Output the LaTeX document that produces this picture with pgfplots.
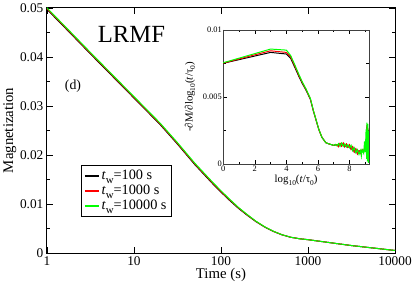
\documentclass[border=0pt]{standalone}
\usepackage{pgfplots}
\pgfplotsset{compat=1.18}
\usepackage{fontspec}
\setmainfont{Liberation Serif}
\begin{document}
\begin{tikzpicture}
\begin{axis}[
  name=main,
  scale only axis, width=353pt, height=248.5pt,
  xmode=log, xmin=1, xmax=10000, ymin=0, ymax=0.05,
  log basis x=10,
  xtick={1,10,100,1000,10000}, xticklabels={1,10,100,1000,10000},
  ytick={0,0.01,0.02,0.03,0.04,0.05}, yticklabels={0,0.01,0.02,0.03,0.04,0.05},
  scaled y ticks=false, scaled x ticks=false,
  minor ytick={0.005,0.015,0.025,0.035,0.045},
  tick align=inside, major tick length=6pt, minor tick length=3pt,
  axis line style={line width=0.8pt}, every tick/.style={line width=0.6pt, black},
  tick label style={font=\fontsize{13.5}{15}\selectfont},
  /pgf/number format/assume math mode=true,
  xlabel={Time (s)}, ylabel={Magnetization},
  label style={font=\fontsize{15}{17}\selectfont},
  xlabel style={yshift=4pt},
  ylabel style={yshift=-3pt},
  legend style={at={(0.098,0.358)}, anchor=north west, draw=black, line width=0.6pt, fill=white,
    font=\fontsize{14.5}{16}\selectfont, row sep=0pt, inner sep=3pt},
  legend cell align=left,
  legend image code/.code={\draw[#1, line width=1.5pt] (0pt,0pt) -- (14pt,0pt);},
]
\addplot[black, line width=1pt] coordinates {
(1,0.0497)(1.778,0.04517)(3.162,0.0406)(5.623,0.0361)(10,0.0316)(15.85,0.0280)(19.95,0.0262)(25.12,0.0242)(31.62,0.0222)(39.81,0.0201)(50.12,0.0180)(63.1,0.0161)(79.43,0.0142)(100,0.0124)(125.9,0.0107)(158.5,0.0091)(199.5,0.0077)(251.2,0.0064)(316.2,0.0053)(398.1,0.0044)(501.2,0.0037)(631,0.0032)(794.3,0.0029)(1000,0.0027)(1778,0.0021)(3162,0.0015)(5623,0.0010)(10000,0.0005)};
\addlegendentry{\textit{t}\raisebox{-0.55ex}{\fontsize{11}{11}\selectfont w}=100 s}
\addplot[red, line width=1pt] coordinates {
(1,0.04985)(1.778,0.04532)(3.162,0.04075)(5.623,0.03625)(10,0.03175)(15.85,0.02815)(19.95,0.02635)(25.12,0.02435)(31.62,0.02235)(39.81,0.02025)(50.12,0.01815)(63.1,0.01625)(79.43,0.01435)(100,0.01254)(125.9,0.01083)(158.5,0.00921)(199.5,0.00778)(251.2,0.00645)(316.2,0.00533)(398.1,0.00442)(501.2,0.00371)(631,0.0032)(794.3,0.0029)(1000,0.0027)(1778,0.0021)(3162,0.0015)(5623,0.0010)(10000,0.0005)};
\addlegendentry{\textit{t}\raisebox{-0.55ex}{\fontsize{11}{11}\selectfont w}=1000 s}
\addplot[green, line width=1pt] coordinates {
(1,0.05)(1.778,0.04547)(3.162,0.0409)(5.623,0.0364)(10,0.0319)(15.85,0.0283)(19.95,0.0265)(25.12,0.0245)(31.62,0.0225)(39.81,0.0204)(50.12,0.0183)(63.1,0.0164)(79.43,0.0145)(100,0.01268)(125.9,0.01095)(158.5,0.0093)(199.5,0.00786)(251.2,0.0065)(316.2,0.00536)(398.1,0.00444)(501.2,0.00372)(631,0.00321)(794.3,0.0029)(1000,0.0027)(1778,0.0021)(3162,0.0015)(5623,0.0010)(10000,0.0005)};
\addlegendentry{\textit{t}\raisebox{-0.55ex}{\fontsize{11}{11}\selectfont w}=10000 s}
\node[font=\fontsize{25}{28}\selectfont] at (axis description cs:0.243,0.89) {LRMF};
\node[font=\fontsize{14}{15}\selectfont] at (axis description cs:0.075,0.68) {(d)};
\end{axis}
\begin{axis}[
  at={(main.south west)}, xshift=178.8pt, yshift=90pt, anchor=south west,
  scale only axis, width=147.7pt, height=136pt,
  xmin=0, xmax=9.23, ymin=0, ymax=0.01,
  xtick={0,2,4,6,8}, xticklabels={0,2,4,6,8}, minor xtick={1,3,5,7,9},
  ytick={0,0.005,0.01}, yticklabels={0,0.005,0.01}, minor ytick={0.0025,0.0075},
  scaled y ticks=false,
  tick align=inside, major tick length=4pt, minor tick length=2.5pt,
  axis line style={line width=0.8pt, black!75}, every tick/.style={line width=0.6pt, black},
  tick label style={font=\fontsize{8.5}{9}\selectfont},
  xticklabel style={yshift=2pt}, yticklabel style={xshift=2pt},
  /pgf/number format/assume math mode=true,
  xlabel={log\raisebox{-0.5ex}{\fontsize{7.5}{7.5}\selectfont 10}(\textit{t}/τ\raisebox{-0.5ex}{\fontsize{7.5}{7.5}\selectfont 0})},
  ylabel={-∂M/∂log\raisebox{-0.5ex}{\fontsize{7.5}{7.5}\selectfont 10}(\textit{t}/τ\raisebox{-0.5ex}{\fontsize{7.5}{7.5}\selectfont 0})},
  label style={font=\fontsize{11}{12}\selectfont},
  xlabel style={yshift=3pt},
  ylabel style={yshift=1pt},
]
\addplot[black, line width=1pt] coordinates {
(0,0.00752)(1,0.00779)(2,0.00806)(3.0,0.00833)(4.0,0.00821)(4.27,0.00789)(4.5,0.0073)(4.79,0.00654)(5.0,0.00603)(5.25,0.0055)(5.52,0.00483)(5.7,0.0040)(5.83,0.00348)(6.05,0.0026)(6.25,0.0020)(6.5,0.0016)(6.67,0.00152)(7.0,0.0014)(7.2,0.00145)(7.3,0.00132)(7.4,0.00152)(7.5,0.00136)(7.6,0.00155)(7.7,0.0013)(7.8,0.00148)(7.9,0.00126)(8.0,0.00142)(8.1,0.00112)(8.2,0.00128)(8.3,0.00092)(8.4,0.00112)(8.5,0.00078)(8.6,0.001)(8.7,0.00082)(8.8,0.00105)(8.9,0.00095)(9.0,0.0014)(9.05,0.001)(9.1,0.0028)(9.13,0.0006)(9.16,0.0026)(9.2,0.0004)};
\addplot[red, line width=1pt] coordinates {
(0,0.00753)(1,0.00784)(2,0.00815)(3.0,0.00845)(4.0,0.00833)(4.27,0.008)(4.5,0.0074)(4.79,0.00662)(5.0,0.0061)(5.25,0.00555)(5.52,0.00487)(5.7,0.00403)(5.83,0.0035)(6.05,0.0026)(6.25,0.002)(6.5,0.0016)(6.67,0.00152)(7.0,0.0014)(7.2,0.00146)(7.3,0.0013)(7.4,0.00154)(7.5,0.00134)(7.6,0.00158)(7.7,0.0013)(7.8,0.0015)(7.9,0.00125)(8.0,0.00144)(8.1,0.0011)(8.2,0.0013)(8.3,0.0009)(8.4,0.00114)(8.5,0.00076)(8.6,0.001)(8.7,0.0008)(8.8,0.00108)(8.9,0.00095)(9.0,0.0015)(9.05,0.001)(9.1,0.0029)(9.13,0.0005)(9.16,0.0027)(9.2,0.0003)};
\addplot[green, line width=1pt] coordinates {
(0,0.00756)(1,0.0079)(2,0.00824)(3.0,0.00858)(4.0,0.0085)(4.27,0.0081)(4.5,0.0075)(4.79,0.0067)(5.0,0.00615)(5.25,0.0056)(5.52,0.0049)(5.7,0.00405)(5.83,0.00352)(6.05,0.00262)(6.25,0.002)(6.5,0.0016)(6.67,0.00152)(7.0,0.0014)(7.1,0.00148)(7.2,0.00137)(7.3,0.00153)(7.4,0.00132)(7.5,0.00158)(7.6,0.00133)(7.7,0.00152)(7.8,0.00128)(7.9,0.00146)(8.0,0.00122)(8.1,0.0014)(8.2,0.001)(8.3,0.00122)(8.4,0.00085)(8.5,0.00108)(8.6,0.00072)(8.7,0.00102)(8.75,0.0006)(8.8,0.00108)(8.9,0.0008)(8.95,0.0017)(9.0,0.0009)(9.05,0.0026)(9.08,0.0004)(9.1,0.0031)(9.13,0.0002)(9.16,0.003)(9.2,0.0001)(9.22,0.0025)};
\end{axis}
\end{tikzpicture}
\end{document}
